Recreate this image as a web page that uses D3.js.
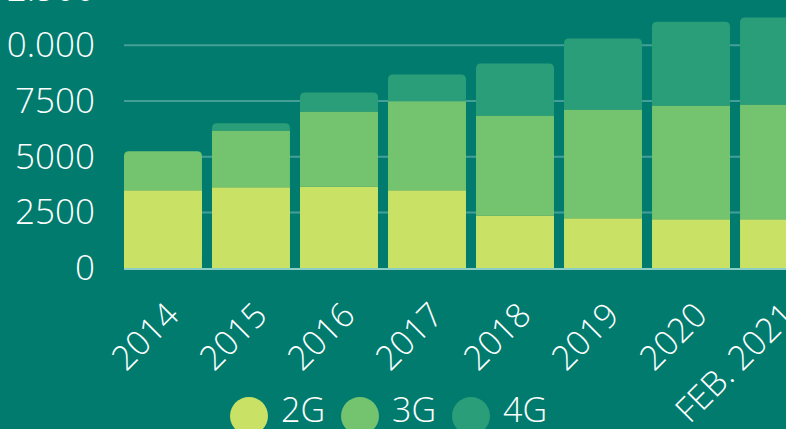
<!DOCTYPE html>
<html>
<head>
<meta charset="utf-8">
<script src="https://cdn.jsdelivr.net/npm/d3@7"></script>
<style>
body { margin: 0; background: #007b6e; overflow: hidden; }
text { font-family: "Open Sans", sans-serif; font-weight: 300; fill: #fff; }
</style>
</head>
<body>
<div id="main"></div>
<script>
// data
var years = ["2014", "2015", "2016", "2017", "2018", "2019", "2020", "FEB. 2021"];
var g2 = [3500, 3630, 3670, 3500, 2370, 2240, 2200, 2200];
var g3 = [1750, 2550, 3360, 3990, 4480, 4880, 5100, 5150];
var g4 = [0, 330, 850, 1200, 2330, 3180, 3760, 3900];
var yTicks = [0, 2500, 5000, 7500, 10000, 12500];
var yTickLabels = ["0", "2500", "5000", "7500", "10.000", "12.500"];
var seriesNames = ["2G", "3G", "4G"];
var colors = ["#c9e266", "#74c46f", "#2a9e79"];

var W = 786, H = 429;
var rows = years.map(function(d, i) {
  return {year: d, "2G": g2[i], "3G": g3[i], "4G": g4[i]};
});

var svg = d3.select("#main")
    .append("svg")
    .attr("width", W)
    .attr("height", H);

svg.append("rect").attr("width", W).attr("height", H).attr("fill", "#007b6e");

var xScale = d3.scaleBand()
    .domain(years)
    .range([124, 818])
    .paddingInner(0.114)
    .paddingOuter(0);

var yScale = d3.scaleLinear()
    .domain([0, 12500])
    .range([268.3, -10.45]);

var color = d3.scaleOrdinal().domain(seriesNames).range(colors);

// gridlines
svg.selectAll(".grid")
    .data(yTicks.slice(1))
    .enter().append("line")
    .attr("class", "grid")
    .attr("x1", 124)
    .attr("x2", W)
    .attr("y1", function(d) { return yScale(d); })
    .attr("y2", function(d) { return yScale(d); })
    .attr("stroke", "#44a096")
    .attr("stroke-width", 2);

// y axis labels
var yAxis = d3.axisLeft(yScale)
    .tickValues(yTicks)
    .tickFormat(function(d, i) { return yTickLabels[i]; })
    .tickSize(0)
    .tickPadding(29);

svg.append("g")
    .attr("class", "y axis")
    .attr("transform", "translate(124,0)")
    .call(yAxis)
    .call(function(g) { g.select(".domain").remove(); })
    .selectAll("text")
    .attr("fill", "#fff")
    .style("font-size", "35px")
    .style("font-family", "'Open Sans', sans-serif")
    .style("font-weight", 300);

// stacked bars
var stacked = d3.stack().keys(seriesNames)(rows);

function topIndex(row) {
  var t = 0;
  seriesNames.forEach(function(k, i) { if (row[k] > 0) t = i; });
  return t;
}

function roundTop(x, y, w, h, r) {
  return "M" + x + "," + (y + h) +
    "V" + (y + r) +
    "Q" + x + "," + y + " " + (x + r) + "," + y +
    "H" + (x + w - r) +
    "Q" + (x + w) + "," + y + " " + (x + w) + "," + (y + r) +
    "V" + (y + h) + "Z";
}

var layer = svg.selectAll(".layer")
    .data(stacked)
    .enter().append("g")
    .attr("class", "layer")
    .attr("fill", function(d) { return color(d.key); });

layer.selectAll("path")
    .data(function(d) { return d.map(function(p) { return {p: p, li: d.index}; }); })
    .enter().append("path")
    .attr("d", function(d) {
      var x = xScale(d.p.data.year), w = xScale.bandwidth();
      var y0 = yScale(d.p[0]), y1 = yScale(d.p[1]);
      var h = y0 - y1;
      if (h <= 0) return null;
      if (topIndex(d.p.data) === d.li) return roundTop(x, y1, w, h, 5);
      return "M" + x + "," + y1 + "h" + w + "v" + h + "h" + (-w) + "Z";
    });

// baseline
svg.append("line")
    .attr("x1", 124)
    .attr("x2", W)
    .attr("y1", yScale(0) + 0.7)
    .attr("y2", yScale(0) + 0.7)
    .attr("stroke", "#8ccdc5")
    .attr("stroke-width", 2);

// x axis
var xAxis = d3.axisBottom(xScale).tickSize(0);

svg.append("g")
    .attr("class", "x axis")
    .attr("transform", "translate(0," + yScale(0) + ")")
    .call(xAxis)
    .call(function(g) { g.select(".domain").remove(); })
    .selectAll("text")
    .attr("x", 0)
    .attr("y", 0)
    .attr("dy", 0)
    .attr("fill", "#fff")
    .attr("transform", "translate(18,49) rotate(-45)")
    .style("text-anchor", "end")
    .style("font-size", "34px")
    .style("font-family", "'Open Sans', sans-serif")
    .style("font-weight", 300);

// legend
var legend = svg.append("g").attr("class", "legend");
var cx = 249;
seriesNames.forEach(function(k) {
  legend.append("circle")
      .attr("cx", cx)
      .attr("cy", 416)
      .attr("r", 19)
      .attr("fill", color(k));
  var t = legend.append("text")
      .attr("x", cx + 32)
      .attr("y", 421.5)
      .style("font-size", "34px")
      .text(k);
  cx = cx + 32 + t.node().getComputedTextLength() + 35;
});
</script>
</body>
</html>
